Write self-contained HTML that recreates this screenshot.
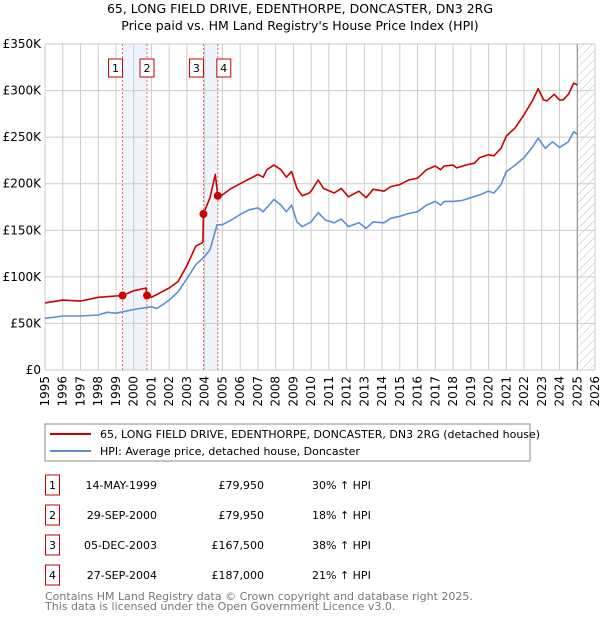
<!DOCTYPE html>
<html><head><meta charset="utf-8"><style>
body{margin:0;background:#fff;}
svg text{font-family:"DejaVu Sans","Liberation Sans",sans-serif;}
</style></head><body>
<svg id="c" width="600" height="620" xmlns="http://www.w3.org/2000/svg">
<defs><pattern id="hatch" width="6" height="6" patternUnits="userSpaceOnUse" patternTransform="rotate(45)"><line x1="0" y1="0" x2="0" y2="6" stroke="#bbb" stroke-width="1"/></pattern></defs>
<text x="300" y="13" text-anchor="middle" font-size="12.5">65, LONG FIELD DRIVE, EDENTHORPE, DONCASTER, DN3 2RG</text>
<text x="300" y="30" text-anchor="middle" font-size="12.5">Price paid vs. HM Land Registry's House Price Index (HPI)</text>
<g id="grid"></g><g id="plot"></g><g id="axes"></g>
<rect x="45" y="424" width="485" height="37" fill="#fff" stroke="#888"/>
<line x1="50" y1="434" x2="91" y2="434" stroke="#cc0000" stroke-width="2"/>
<text x="100" y="438" font-size="11">65, LONG FIELD DRIVE, EDENTHORPE, DONCASTER, DN3 2RG (detached house)</text>
<line x1="50" y1="451" x2="91" y2="451" stroke="#5b8ed6" stroke-width="2"/>
<text x="100" y="455" font-size="11">HPI: Average price, detached house, Doncaster</text>
<g id="table"></g>
<text x="45" y="600" font-size="11" fill="#777">Contains HM Land Registry data © Crown copyright and database right 2025.</text>
<text x="45" y="610" font-size="11" fill="#777">This data is licensed under the Open Government Licence v3.0.</text>
</svg>
<script>
const yearTicks=[1995,1996,1997,1998,1999,2000,2001,2002,2003,2004,2005,2006,2007,2008,2009,2010,2011,2012,2013,2014,2015,2016,2017,2018,2019,2020,2021,2022,2023,2024,2025,2026];
const valueTicks=[0,50,100,150,200,250,300,350];
const valueTickLabels=["£0","£50K","£100K","£150K","£200K","£250K","£300K","£350K"];
const priceYears=[1995,1996,1997,1998,1999.37,2000,2000.7,2000.75,2001,2002,2002.5,2003,2003.5,2003.9,2003.93,2004.3,2004.6,2004.74,2005,2005.5,2006,2006.5,2007,2007.3,2007.5,2007.9,2008.3,2008.6,2008.9,2009.2,2009.5,2009.9,2010,2010.4,2010.7,2011.3,2011.7,2012.1,2012.7,2013.1,2013.5,2014.1,2014.5,2015,2015.5,2016,2016.5,2017,2017.3,2017.5,2018,2018.2,2018.7,2019.2,2019.5,2020,2020.3,2020.7,2021,2021.5,2022,2022.5,2022.8,2023.1,2023.3,2023.7,2024,2024.2,2024.5,2024.8,2025];
const priceValues=[72,75,74,78,80,85,88,80,78,88,95,112,133,137,167.5,185,210,187,188,195,200,205,210,207,215,220,215,207,213,195,187,190,192,204,195,190,195,186,192,185,194,192,197,199,204,206,215,219,215,219,220,217,220,222,228,231,230,238,251,260,274,290,302,290,289,296,290,290,296,308,306];
const hpiYears=[1995,1996,1997,1998,1998.5,1999,2000,2001,2001.3,2001.7,2002,2002.5,2003,2003.5,2004,2004.3,2004.7,2005,2005.5,2006,2006.5,2007,2007.3,2007.9,2008.3,2008.6,2008.9,2009.2,2009.5,2010,2010.4,2010.8,2011.3,2011.7,2012.1,2012.7,2013.1,2013.5,2014.1,2014.5,2015,2015.5,2016,2016.5,2017,2017.3,2017.5,2018,2018.5,2019,2019.5,2020,2020.3,2020.7,2021,2021.5,2022,2022.5,2022.8,2023.2,2023.6,2024,2024.5,2024.8,2025];
const hpiValues=[55.5,58,58,59,62,61,65,68,66,71,75,84,98,113,122,129,156,156,161,167,172,174,170,183,177,170,177,159,154,159,169,161,158,162,154,158,152,159,158,163,165,168,170,177,181,177,181,181,182,185,188,192,190,199,213,220,228,240,249,238,245,239,245,256,253];
const saleYears=[1999.37,2000.75,2003.93,2004.74];
const saleValues=[79.95,79.95,167.5,187];
const saleLabels=["1","2","3","4"];
const saleDates=["14-MAY-1999","29-SEP-2000","05-DEC-2003","27-SEP-2004"];
const salePrices=["£79,950","£79,950","£167,500","£187,000"];
const saleHpi=["30% ↑ HPI","18% ↑ HPI","38% ↑ HPI","21% ↑ HPI"];

const X0=45,X1=595,Y0=370,Y1=44;
const xs=y=>X0+(y-1995)/31*(X1-X0);
const ys=v=>Y0-v/350*(Y0-Y1);
const NS="http://www.w3.org/2000/svg";
function mk(tag,attrs,parent,text){const e=document.createElementNS(NS,tag);for(const k in attrs)e.setAttribute(k,attrs[k]);if(text!==undefined)e.textContent=text;parent.appendChild(e);return e;}
const grid=document.getElementById('grid'),plot=document.getElementById('plot'),axes=document.getElementById('axes'),table=document.getElementById('table');
// hatched future region
let h=mk('rect',{x:xs(2025),y:Y1,width:X1-xs(2025),height:Y0-Y1,fill:'url(#hatch)'},grid);


// sale bands
for(let i=0;i<saleYears.length;i+=2){
 const b=mk('rect',{x:xs(saleYears[i]),y:Y1,width:xs(saleYears[i+1])-xs(saleYears[i]),height:Y0-Y1,fill:'#eef3fc'},grid);
 
 
}
yearTicks.forEach(y=>{
 const l=mk('line',{x1:xs(y),y1:Y1,x2:xs(y),y2:Y0,stroke:'#ccc','stroke-width':1},grid);
 
 
 const t=mk('text',{x:0,y:0,'font-size':12,'text-anchor':'end',transform:`translate(${xs(y)+4},${Y0+6}) rotate(-90)`},axes,String(y));
 
 
});
valueTicks.forEach((v,i)=>{
 const l=mk('line',{x1:X0,y1:ys(v),x2:X1,y2:ys(v),stroke:'#ccc','stroke-width':1},grid);
 
 
 const t=mk('text',{x:X0-4,y:ys(v)+4,'font-size':12,'text-anchor':'end'},axes,valueTickLabels[i]);
 
 
});
const nl=mk('line',{x1:xs(2025),y1:Y1,x2:xs(2025),y2:Y0,stroke:'#888','stroke-width':1},grid);


saleYears.forEach((y,i)=>{
 const l=mk('line',{x1:xs(y),y1:Y1,x2:xs(y),y2:Y0,stroke:'#e66','stroke-width':1,'stroke-dasharray':'2,2'},grid);
 
 
});
function path(xa,va,color,name){
 const d=xa.map((y,i)=>(i?'L':'M')+xs(y).toFixed(1)+','+ys(va[i]).toFixed(1)).join('');
 const p=mk('path',{d:d,fill:'none',stroke:color,'stroke-width':1.6,'stroke-linejoin':'round'},plot);
 
 
}
path(hpiYears,hpiValues,'#5b8ed6','hpi-line');
path(priceYears,priceValues,'#cc0000','price-line');
saleYears.forEach((y,i)=>{
 const c=mk('circle',{cx:xs(y),cy:ys(saleValues[i]),r:4,fill:'#cc0000'},plot);
 
 
 const off=[-7,0,-7,6][i];
 const bx=xs(y)+off-7;
 const r=mk('rect',{x:bx,y:59,width:14,height:18,fill:'#fff',stroke:'#cc0000'},plot);
 
 
 const t=mk('text',{x:bx+7,y:72,'font-size':11,'text-anchor':'middle'},plot,saleLabels[i]);
 
 
 const ry=475+i*30;
 const tb=mk('rect',{x:45.5,y:ry,width:14,height:20,fill:'#fff',stroke:'#cc0000'},table);
 
 
 const tn=mk('text',{x:52.5,y:ry+14,'font-size':11,'text-anchor':'middle'},table,saleLabels[i]);
 
 
 const td=mk('text',{x:157,y:ry+14,'font-size':11,'text-anchor':'end'},table,saleDates[i]);
 
 
 const tp=mk('text',{x:264,y:ry+14,'font-size':11,'text-anchor':'end'},table,salePrices[i]);
 
 
 const th=mk('text',{x:312,y:ry+14,'font-size':11},table,saleHpi[i]);
 
 
});
</script>
</body></html>
